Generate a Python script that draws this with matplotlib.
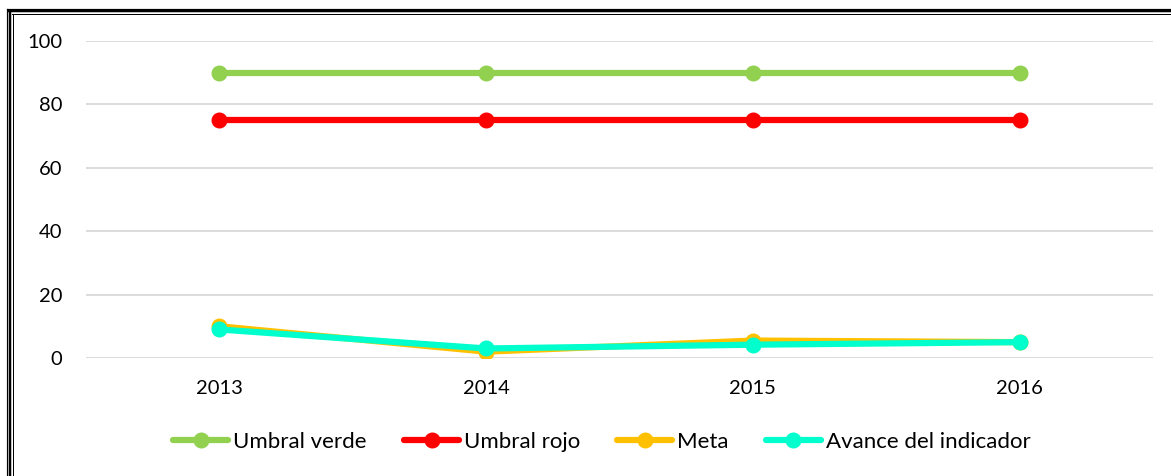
import matplotlib
matplotlib.use("Agg")
import matplotlib.pyplot as plt
from matplotlib.lines import Line2D

years = ["2013", "2014", "2015", "2016"]
umbral_verde = [90, 90, 90, 90]
umbral_rojo = [75, 75, 75, 75]
meta = [10, 2, 5.5, 5]
avance = [9, 3, 4.2, 5]
yticks = [0, 20, 40, 60, 80, 100]

plt.rcParams['font.family'] = ['Lato', 'DejaVu Sans']

fig = plt.figure(figsize=(11.71, 4.76), dpi=100)
ax = fig.add_axes([86/1171, 1-358/476, (1153-86)/1171, (358-41)/476])

x = list(range(len(years)))
lw = 4.5
ms = 10.5
series = [
    ("Umbral verde", umbral_verde, "#92D050"),
    ("Umbral rojo", umbral_rojo, "#FF0000"),
    ("Meta", meta, "#FFC000"),
    ("Avance del indicador", avance, "#00FFCC"),
]
for i, (name, vals, c) in enumerate(series):
    ax.plot(x, vals, color=c, lw=lw, marker='o', ms=ms, label=name,
            solid_capstyle='round', zorder=3 + i)

ax.set_xlim(-0.5, len(years) - 0.5)
ax.set_ylim(0, 100)
ax.set_yticks(yticks)
ax.set_xticks(x)
ax.set_xticklabels(years)
ax.yaxis.grid(True, color="#D9D9D9", lw=1.3)
ax.set_axisbelow(True)
for s in ax.spines.values():
    s.set_visible(False)
ax.tick_params(axis='both', length=0, labelsize=14.5, colors="black")
ax.tick_params(axis='y', pad=17)
ax.tick_params(axis='x', pad=16)

leg = fig.legend(loc='center', bbox_to_anchor=(602/1171, 1-442/476), ncol=4,
                 frameon=False, fontsize=16, handlelength=2.48,
                 handletextpad=0.22, columnspacing=1.67)

# compound frame on top and left
W, H = 1171, 476
for y_, w_ in [(8.5, 1.2), (11, 2.5), (13.5, 1.0)]:
    fig.add_artist(Line2D([(y_ - 2)/W, 1], [1 - y_/H, 1 - y_/H],
                          color='black', lw=w_*0.72, transform=fig.transFigure))
for x_, w_ in [(6.5, 1.2), (9.5, 2.5), (12.5, 1.0)]:
    fig.add_artist(Line2D([x_/W, x_/W], [0, 1 - (x_ + 2)/H], color='black', lw=w_*0.72,
                          transform=fig.transFigure))

fig.savefig("out.png", dpi=100, facecolor="white")
